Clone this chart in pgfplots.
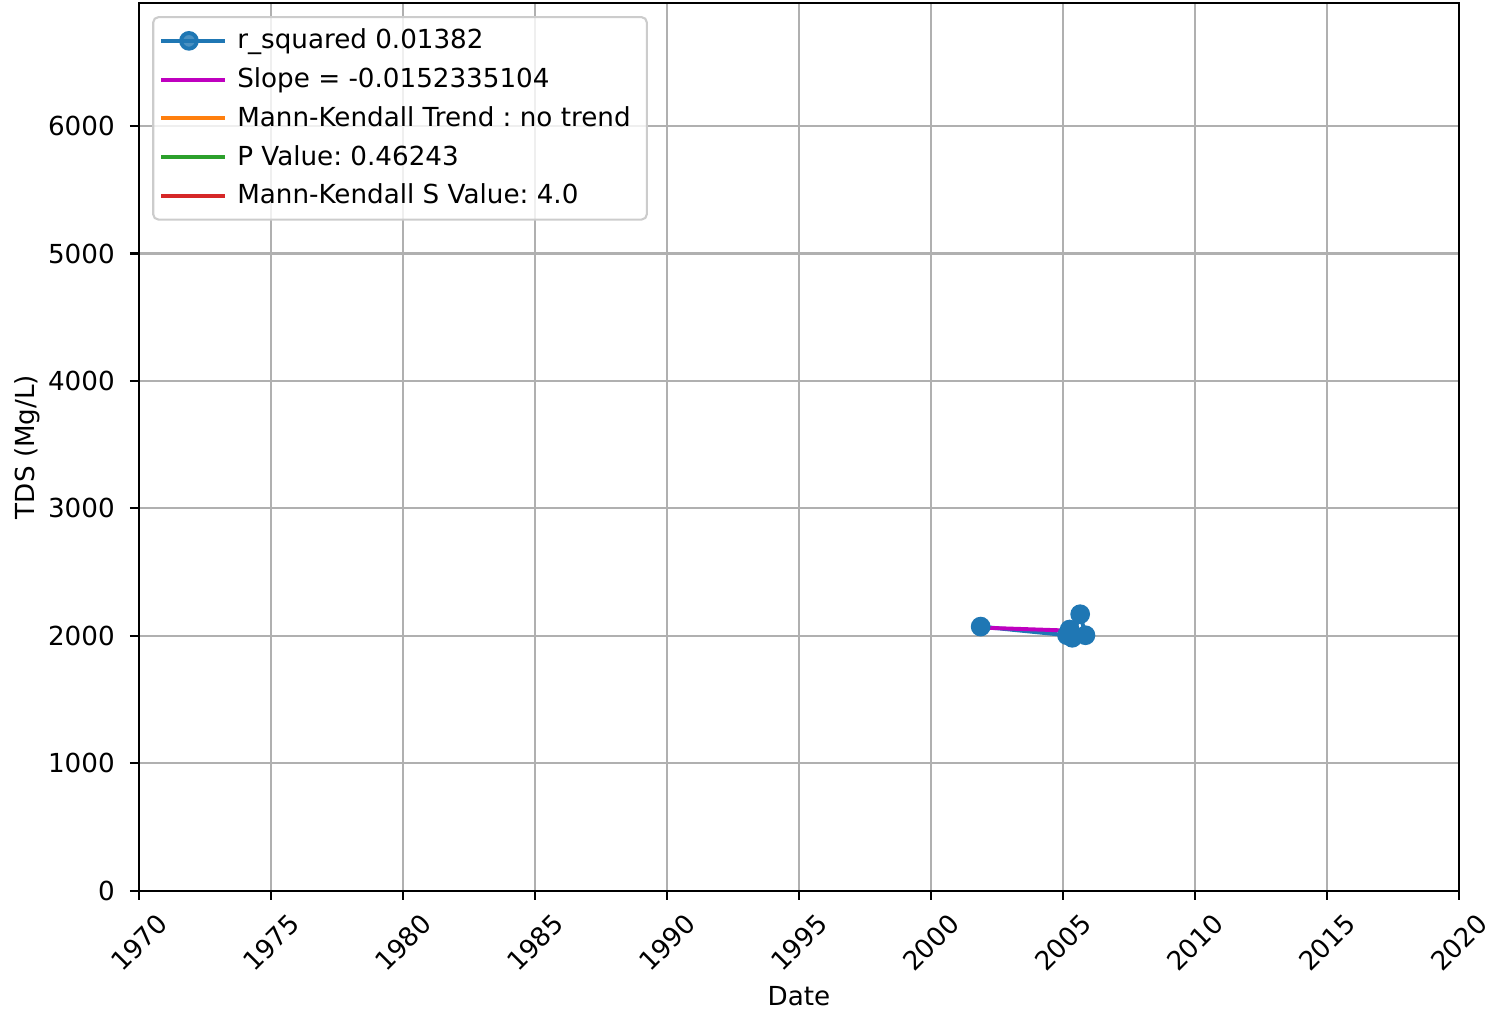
\documentclass[border=0pt]{standalone}
\usepackage{fontspec}
\setmainfont{DejaVu Sans}
\usepackage{pgfplots}
\pgfplotsset{compat=1.18}
\frenchspacing
\definecolor{c0}{HTML}{1F77B4}
\definecolor{cm}{HTML}{BF00BF}
\definecolor{c1}{HTML}{FF7F0E}
\definecolor{c2}{HTML}{2CA02C}
\definecolor{c3}{HTML}{D62728}
\definecolor{gridc}{HTML}{B0B0B0}
\begin{document}
\begin{tikzpicture}
\begin{axis}[
  name=ax,
  scale only axis, width=504pt, height=339pt,
  xmin=1970, xmax=2020, ymin=0, ymax=6965,
  xtick={1970,1975,...,2020}, ytick={0,1000,...,6000},
  /pgf/number format/assume math mode=true,
  /pgf/number format/1000 sep={},
  grid=major, grid style={color=gridc, line width=0.8pt},
  axis line style={line width=0.8pt},
  tick style={black, line width=0.8pt},
  tick align=outside, major tick length=3.5pt,
  xtick pos=bottom, ytick pos=left,
  font=\fontsize{10pt}{12pt}\selectfont,
  xticklabel style={rotate=45, anchor=center, inner sep=0pt},
  xticklabel shift=16.3pt,
  yticklabel style={anchor=east, inner sep=0pt},
  yticklabel shift=5.6pt,
  xlabel={Date}, ylabel={TDS (Mg/L)},
  every axis x label/.style={at={(axis description cs:0.5,0)}, yshift=-40.3pt, anchor=center},
  every axis y label/.style={at={(axis description cs:0,0.5)}, xshift=-42.5pt, rotate=90, anchor=center},
  legend cell align=left,
  legend style={at={(axis description cs:0,1)}, anchor=north west, xshift=5pt, yshift=-5pt,
    draw=black!20, line width=0.8pt, rounded corners=2pt, fill=white, fill opacity=0.8, text opacity=1,
    row sep=3.7pt, inner xsep=2.4pt, inner ysep=3.5pt,
    nodes={inner xsep=3.8pt, inner ysep=1pt}},
  legend image code/.code={\path (0pt,0pt) -- (24.4pt,0pt);\draw[mark repeat=2, mark phase=2, #1] plot coordinates {(0pt,0pt) (10.5pt,0pt) (21pt,0pt)};},
]
\addplot[color=c0, line width=1.5pt, mark=*, mark size=3pt, mark options={fill=c0, draw=c0}]
  coordinates {(2001.88,2073) (2005.15,2005) (2005.25,2050) (2005.35,1985) (2005.65,2170) (2005.85,2005)};
\addlegendentry{r\_squared 0.01382}
\addplot[color=cm, line width=1.5pt, no marks]
  coordinates {(2001.88,2065) (2005.85,2037)};
\addlegendentry{Slope = -0.0152335104}
\addlegendimage{color=c1, line width=1.5pt, no marks}
\addlegendentry{Mann-Kendall Trend : no trend}
\addlegendimage{color=c2, line width=1.5pt, no marks}
\addlegendentry{P Value: 0.46243}
\addlegendimage{color=c3, line width=1.5pt, no marks}
\addlegendentry{Mann-Kendall S Value: 4.0}
\end{axis}
\pgfresetboundingbox
\path ([xshift=-53.1pt,yshift=-47pt]ax.south west) rectangle ([xshift=12.6pt,yshift=1.15pt]ax.north east);
\end{tikzpicture}
\end{document}
